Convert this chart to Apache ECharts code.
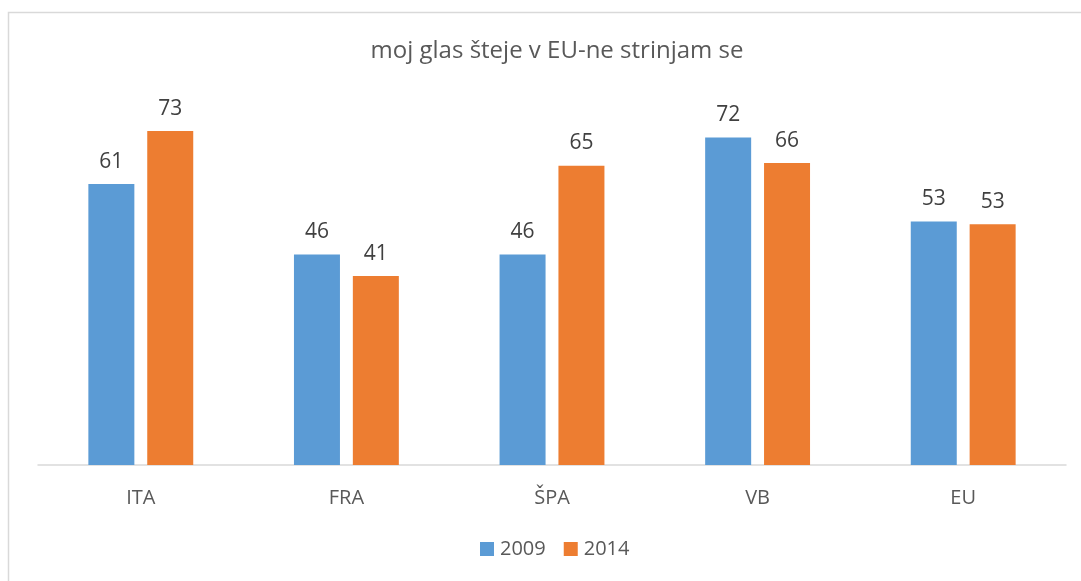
<!DOCTYPE html>
<html>
<head>
<meta charset="utf-8">
<script src="https://cdn.jsdelivr.net/npm/echarts@6/dist/echarts.min.js"></script>
<style>
    html, body { margin: 0; padding: 0; background: #fff; }
    #main { width: 1081px; height: 581px; }
</style>
</head>
<body>
<div id="main"></div>
<script>
    // 数据
    var categories = ['ITA', 'FRA', 'ŠPA', 'VB', 'EU'];
    var seriesNames = ['2009', '2014'];
    var values2009 = [61.4, 46, 46, 71.6, 53.2];
    var values2014 = [73, 41.3, 65.4, 66, 52.6];

    var font = '"Open Sans", "Noto Sans", sans-serif';

    var myChart = echarts.init(document.getElementById('main'));
    var option = {
        backgroundColor: '#fff',
        animation: false,
        title: {
            text: 'moj glas šteje v EU-ne strinjam se',
            left: 552,
            textAlign: 'center',
            top: 34,
            textStyle: { fontFamily: font, fontSize: 24, fontWeight: 'normal', color: '#595959' }
        },
        graphic: [{
            type: 'rect',
            shape: { x: 8.5, y: 12.5, width: 1200, height: 700 },
            style: { fill: null, stroke: '#d9d9d9', lineWidth: 1.5 },
            silent: true
        }],
        legend: {
            data: seriesNames,
            bottom: 17,
            left: 475,
            itemWidth: 14,
            itemHeight: 14,
            itemGap: 18,
            icon: 'rect',
            textStyle: { fontFamily: font, fontSize: 20, color: '#595959', padding: [0, 0, 0, 1] }
        },
        grid: { left: 38, right: 15, top: 99, bottom: 116 },
        xAxis: {
            type: 'category',
            data: categories,
            axisLine: { lineStyle: { color: '#d9d9d9', width: 1.5 } },
            axisTick: { show: false },
            axisLabel: { fontFamily: font, fontSize: 20, color: '#595959', margin: 23 }
        },
        yAxis: {
            type: 'value',
            min: 0,
            max: 80,
            interval: 10,
            show: false,
            splitLine: { show: false }
        },
        series: [{
            name: '2009',
            type: 'bar',
            data: values2009,
            barWidth: 46,
            barGap: '28%',
            itemStyle: { color: '#5b9bd5' },
            label: {
                show: true, position: 'top', distance: 12,
                fontFamily: font, fontSize: 21, color: '#404040',
                formatter: function (p) { return Math.round(p.value); }
            }
        }, {
            name: '2014',
            type: 'bar',
            data: values2014,
            barWidth: 46,
            itemStyle: { color: '#ed7d31' },
            label: {
                show: true, position: 'top', distance: 12,
                fontFamily: font, fontSize: 21, color: '#404040',
                formatter: function (p) { return Math.round(p.value); }
            }
        }]
    };
    myChart.setOption(option);
</script>
</body>
</html>
